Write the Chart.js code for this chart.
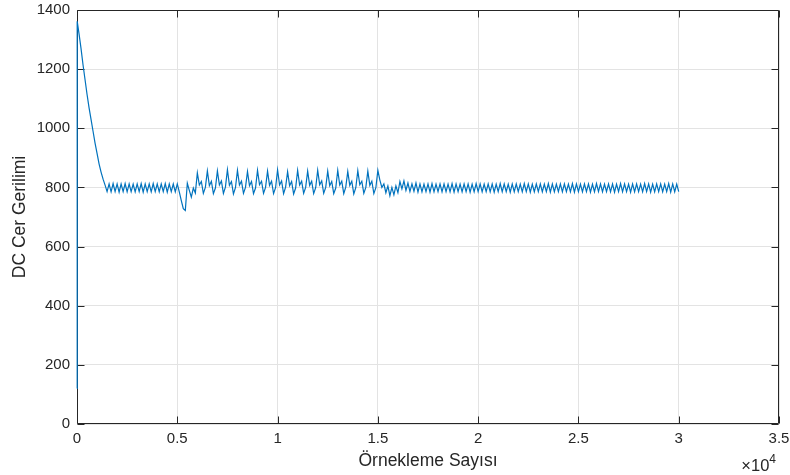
<!DOCTYPE html>
<html><head><meta charset="utf-8">
<script src="https://cdn.jsdelivr.net/npm/chart.js@4.4.1/dist/chart.umd.min.js"></script>
<style>html,body{margin:0;padding:0;background:#fff;}canvas{display:block;}</style>
</head><body>
<canvas id="c" width="790" height="475"></canvas>
<script>
// ---- chart data ----
const xAxisTitle = 'Örnekleme Sayısı';
const yAxisTitle = 'DC Cer Gerilimi';
const xTickLabels = ['0', '0.5', '1', '1.5', '2', '2.5', '3', '3.5'];
const yTickLabels = ['0', '200', '400', '600', '800', '1000', '1200', '1400'];
const xExponentBase = '\u00d710';
const xExponentPower = '4';
const xRange = [0, 35000];
const yRange = [0, 1400];

// first two samples (the vertical jump at the start)
const startSamples = [0, 10];
const startValues = [120, 1362];
// afterwards: one reading every 100 samples, from sample 100 to 30000
const sampleStep = 100;
const dcValues = [
  // 100 - 1400 : initial decay
  1320, 1270, 1215, 1165, 1115, 1070, 1030, 990, 950, 915, 880, 852, 828, 808,
  // 1500 - 5000 : first steady ripple
  786, 812, 785, 813, 786, 812, 784, 812, 786, 813, 785, 812, 786, 811, 785, 812, 786, 813,
  784, 812, 786, 812, 785, 813, 786, 812, 785, 812, 786, 813, 784, 812, 786, 812, 785, 812,
  // 5100 - 5900 : dip
  785, 755, 728, 722, 814, 790, 767, 798, 781,
  // 6000 - 15000 : large oscillation
  849, 808, 820, 780, 800, 856, 806, 821, 779, 798,
  856, 808, 822, 780, 801, 860, 807, 820, 778, 799,
  858, 808, 821, 780, 800, 854, 806, 820, 779, 798,
  858, 809, 821, 780, 800, 855, 807, 821, 779, 799,
  859, 808, 822, 779, 801, 853, 806, 820, 778, 798,
  858, 808, 821, 780, 800, 855, 807, 821, 779, 799,
  858, 809, 822, 780, 800, 855, 806, 820, 779, 798,
  858, 808, 821, 779, 801, 854, 807, 821, 778, 799,
  857, 809, 821, 780, 800, 855, 807, 821, 779, 799,
  858,
  // 15100 - 17000 : transition
  825, 800, 812, 782, 805, 772, 800, 775, 805, 782,
  820, 795, 822, 790, 815, 786, 812, 787, 815, 784,
  // 17100 - 30000 : final steady ripple
  812, 785, 811, 786, 812, 784, 813, 785, 811, 786,
  812, 785, 812, 786, 811, 785, 813, 784, 812, 786,
  811, 785, 812, 786, 812, 784, 811, 785, 813, 786,
  812, 785, 811, 786, 812, 785, 812, 784, 811, 786,
  813, 785, 812, 786, 811, 784, 812, 785, 812, 786,
  811, 785, 813, 786, 812, 784, 811, 785, 812, 786,
  812, 785, 811, 786, 813, 784, 812, 785, 811, 786,
  812, 785, 812, 786, 811, 785, 813, 784, 812, 786,
  811, 785, 812, 786, 812, 784, 811, 785, 813, 786,
  812, 785, 811, 786, 812, 785, 812, 784, 811, 786,
  813, 785, 812, 786, 811, 784, 812, 785, 812, 786,
  811, 785, 813, 786, 812, 784, 811, 785, 812, 786,
  812, 785, 811, 786, 813, 784, 812, 785, 811, 786
];

// ---- build points ----
const points = [];
for (let i = 0; i < startSamples.length; i++) points.push({x: startSamples[i], y: startValues[i]});
for (let i = 0; i < dcValues.length; i++) points.push({x: (i + 1) * sampleStep, y: dcValues[i]});

const textColor = '#262626';
const gridColor = '#e3e3e3';
const fontFamily = '"Liberation Sans", Arial, Helvetica, sans-serif';

const matlabBox = {
  id: 'matlabBox',
  beforeDatasetsDraw(chart) {
    const {ctx, chartArea: a, scales} = chart;
    const L = Math.round(a.left) + 0.5, R = Math.round(a.right) - 0.5;
    const T = Math.round(a.top) + 0.5, B = Math.round(a.bottom) - 0.5;
    ctx.save();
    ctx.strokeStyle = textColor;
    ctx.lineWidth = 1;
    ctx.beginPath();
    ctx.rect(L, T, R - L, B - T);
    const tl = 7;
    scales.x.ticks.forEach(t => {
      const px = Math.round(scales.x.getPixelForValue(t.value)) + 0.5;
      ctx.moveTo(px, B); ctx.lineTo(px, B - tl);
      ctx.moveTo(px, T); ctx.lineTo(px, T + tl);
    });
    scales.y.ticks.forEach(t => {
      const py = Math.round(scales.y.getPixelForValue(t.value)) + 0.5;
      ctx.moveTo(L, py); ctx.lineTo(L + tl, py);
      ctx.moveTo(R, py); ctx.lineTo(R - tl, py);
    });
    ctx.stroke();
    ctx.restore();
  },
  afterDraw(chart) {
    const {ctx, chartArea: a} = chart;
    ctx.save();
    ctx.fillStyle = textColor;
    ctx.textBaseline = 'alphabetic';
    ctx.font = '12px ' + fontFamily;
    const pw = ctx.measureText(xExponentPower).width;
    ctx.textAlign = 'left';
    const pRight = a.right - 3;
    ctx.fillText(xExponentPower, pRight - pw, 463);
    ctx.font = '16.5px ' + fontFamily;
    ctx.textAlign = 'right';
    ctx.fillText(xExponentBase, pRight - pw, 471);
    ctx.restore();
  }
};

new Chart(document.getElementById('c'), {
  type: 'line',
  data: {
    datasets: [{
      data: points,
      borderColor: '#0072BD',
      borderWidth: 1.2,
      pointRadius: 0,
      tension: 0,
      fill: false,
      clip: false
    }]
  },
  options: {
    responsive: false,
    animation: false,
    devicePixelRatio: 1,
    layout: {padding: {left: 0, right: 11, top: 10, bottom: 0}},
    plugins: {legend: {display: false}, tooltip: {enabled: false}},
    scales: {
      x: {
        type: 'linear',
        min: xRange[0], max: xRange[1],
        afterFit: s => { s.height = 51; s.paddingLeft = 0; s.paddingRight = 0; },
        grid: {color: gridColor, drawTicks: false},
        border: {display: false},
        ticks: {
          stepSize: 5000, autoSkip: false, maxRotation: 0, padding: 6,
          color: textColor, font: {family: fontFamily, size: 15},
          callback: (v, i) => xTickLabels[i]
        },
        title: {display: true, text: xAxisTitle, color: textColor,
                font: {family: fontFamily, size: 17.5}, padding: {top: 0, bottom: 3}}
      },
      y: {
        type: 'linear',
        min: yRange[0], max: yRange[1],
        afterFit: s => { s.width = 77; s.paddingTop = 0; s.paddingBottom = 0; },
        grid: {color: gridColor, drawTicks: false},
        border: {display: false},
        ticks: {
          stepSize: 200, autoSkip: false, padding: 7,
          color: textColor, font: {family: fontFamily, size: 15},
          callback: (v, i) => yTickLabels[i]
        },
        title: {display: true, text: yAxisTitle, color: textColor,
                font: {family: fontFamily, size: 17.5}, padding: {top: 10, bottom: 0}}
      }
    }
  },
  plugins: [matlabBox]
});
</script>
</body></html>
